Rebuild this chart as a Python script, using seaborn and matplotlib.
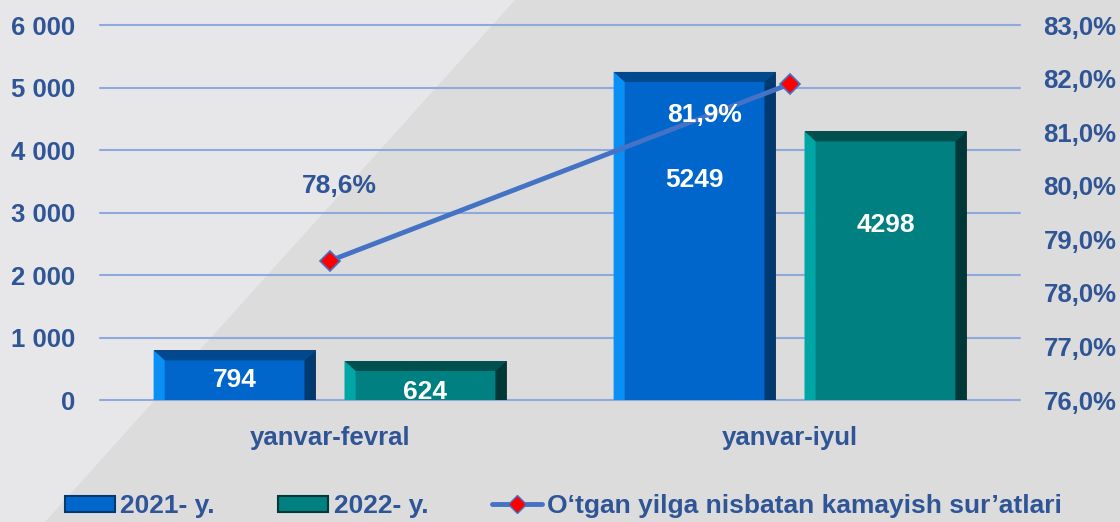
import numpy as np
import pandas as pd
import matplotlib.pyplot as plt
import seaborn as sns
from matplotlib.patches import Polygon, Rectangle
from matplotlib.lines import Line2D

sns.set_theme(style="white")
plt.rcParams['font.family'] = ['Liberation Sans', 'DejaVu Sans']

periods = ['yanvar-fevral', 'yanvar-iyul']
years = ['2021- y.', '2022- y.']
values_2021 = [794, 5249]
values_2022 = [624, 4298]
ratio = [78.6, 81.9]
ratio_labels = ['78,6%', '81,9%']
left_ticks = ['0', '1 000', '2 000', '3 000', '4 000', '5 000', '6 000']
right_ticks = ['76,0%', '77,0%', '78,0%', '79,0%', '80,0%', '81,0%', '82,0%', '83,0%']
line_label = 'O‘tgan yilga nisbatan kamayish sur’atlari'

df = pd.DataFrame({
    'Davr': periods * 2,
    'Yil': [years[0]] * 2 + [years[1]] * 2,
    'Soni': values_2021 + values_2022,
})

txt = '#2F5597'
grid_c = '#8EA9DB'
fs = 19
tfs = 18.5
# face, light (left), dark (top), darker (right)
bar_styles = {
    years[0]: ('#0066CC', '#0A90F5', '#00498F', '#003A70'),
    years[1]: ('#008080', '#00A5A5', '#005050', '#003838'),
}

fig = plt.figure(figsize=(11.2, 5.22), dpi=100)
fig.patch.set_facecolor('#DCDCDC')
# lighter diagonal panel in the background
fig.patches.append(Polygon([[0, 1], [515 / 1120, 1], [45 / 1120, 0], [0, 0]],
                           closed=True, transform=fig.transFigure,
                           facecolor='#E7E7EA', edgecolor='none', zorder=-10))

ax = fig.add_axes([100 / 1120, 1 - 400 / 522, 920 / 1120, 375 / 522])
ax.patch.set_alpha(0)

sns.barplot(data=df, x='Davr', y='Soni', hue='Yil', hue_order=years,
            palette=[bar_styles[y][0] for y in years], saturation=1,
            width=0.83, gap=0.152, ax=ax, legend=False, zorder=3)

ax.set_ylim(0, 6000)
ax.set_yticks(np.arange(0, 6001, 1000))
ax.set_yticklabels(left_ticks)
ax.set_xlim(-0.5, 1.5)
ax.yaxis.grid(True, color=grid_c, linewidth=1.5, zorder=0)
for gl in ax.yaxis.get_gridlines():
    gl.set_clip_on(False)
ax.set_axisbelow(True)
for s in ax.spines.values():
    s.set_visible(False)
ax.tick_params(axis='y', length=0, pad=18, labelsize=tfs, labelcolor=txt)
ax.tick_params(axis='x', length=0, pad=19, labelsize=tfs, labelcolor=txt)
for lab in ax.get_yticklabels() + ax.get_xticklabels():
    lab.set_fontweight('bold')
ax.set_xlabel('')
ax.set_ylabel('')

# bevel on each bar
bdx, bdy = 0.024, 160
label_frac = [[0.40, 0.67], [0.20, 0.65]]
bars = ax.patches
for i, yr in enumerate(years):
    face, light, dark, darker = bar_styles[yr]
    for j in range(len(periods)):
        p = bars[i * len(periods) + j]
        x0, w, h = p.get_x(), p.get_width(), p.get_height()
        x1 = x0 + w
        p.set_edgecolor('#2a2a2a')
        p.set_linewidth(0.6)
        dy = min(bdy, h / 2.2)
        ax.add_patch(Polygon([[x0, h], [x1, h], [x1 - bdx, h - dy], [x0 + bdx, h - dy]],
                             facecolor=dark, edgecolor='none', zorder=4))
        ax.add_patch(Polygon([[x0, 0], [x0, h], [x0 + bdx, h - dy], [x0 + bdx, 0]],
                             facecolor=light, edgecolor='none', zorder=4))
        ax.add_patch(Polygon([[x1, 0], [x1, h], [x1 - bdx, h - dy], [x1 - bdx, 0]],
                             facecolor=darker, edgecolor='none', zorder=4))
        vals = values_2021 if i == 0 else values_2022
        ax.text(x0 + w / 2, h * label_frac[i][j], str(vals[j]), ha='center', va='center',
                color='white', fontsize=fs, fontweight='bold', zorder=6)

ax2 = ax.twinx()
ax2.grid(False)
ax2.set_ylim(76, 83)
ax2.set_yticks(np.arange(76, 83.1, 1))
ax2.set_yticklabels(right_ticks)
for s in ax2.spines.values():
    s.set_visible(False)
ax2.tick_params(axis='y', length=0, pad=17, labelsize=tfs, labelcolor=txt)
for lab in ax2.get_yticklabels():
    lab.set_fontweight('bold')

sns.lineplot(x=[0, 1], y=ratio, ax=ax2, color='#4472C4', linewidth=3.5,
             marker='D', markersize=10, markerfacecolor='#FF0000',
             markeredgecolor='#4472C4', markeredgewidth=1.2, zorder=5)
ax2.set_xlim(-0.5, 1.5)
ax2.text(0.02, 80.0, ratio_labels[0], ha='center', va='center', color=txt,
         fontsize=fs, fontweight='bold')
ax2.text(0.815, 81.32, ratio_labels[1], ha='center', va='center', color='white',
         fontsize=fs, fontweight='bold', zorder=7)

handles = [
    Rectangle((0, 0), 1, 1, facecolor=bar_styles[years[0]][0], edgecolor=bar_styles[years[0]][3], linewidth=1.5),
    Rectangle((0, 0), 1, 1, facecolor=bar_styles[years[1]][0], edgecolor=bar_styles[years[1]][3], linewidth=1.5),
    Line2D([], [], color='#4472C4', linewidth=3.5, marker='D', markersize=9,
           markerfacecolor='#FF0000', markeredgecolor='#4472C4'),
]
leg = fig.legend(handles, years + [line_label], loc='center', bbox_to_anchor=(0.503, 0.03),
                 ncol=3, frameon=False, fontsize=fs, handlelength=1.9, handleheight=0.6,
                 handletextpad=0.2, columnspacing=2.4)
for t in leg.get_texts():
    t.set_color(txt)
    t.set_fontweight('bold')

fig.savefig('out.png', dpi=100, facecolor=fig.get_facecolor())
